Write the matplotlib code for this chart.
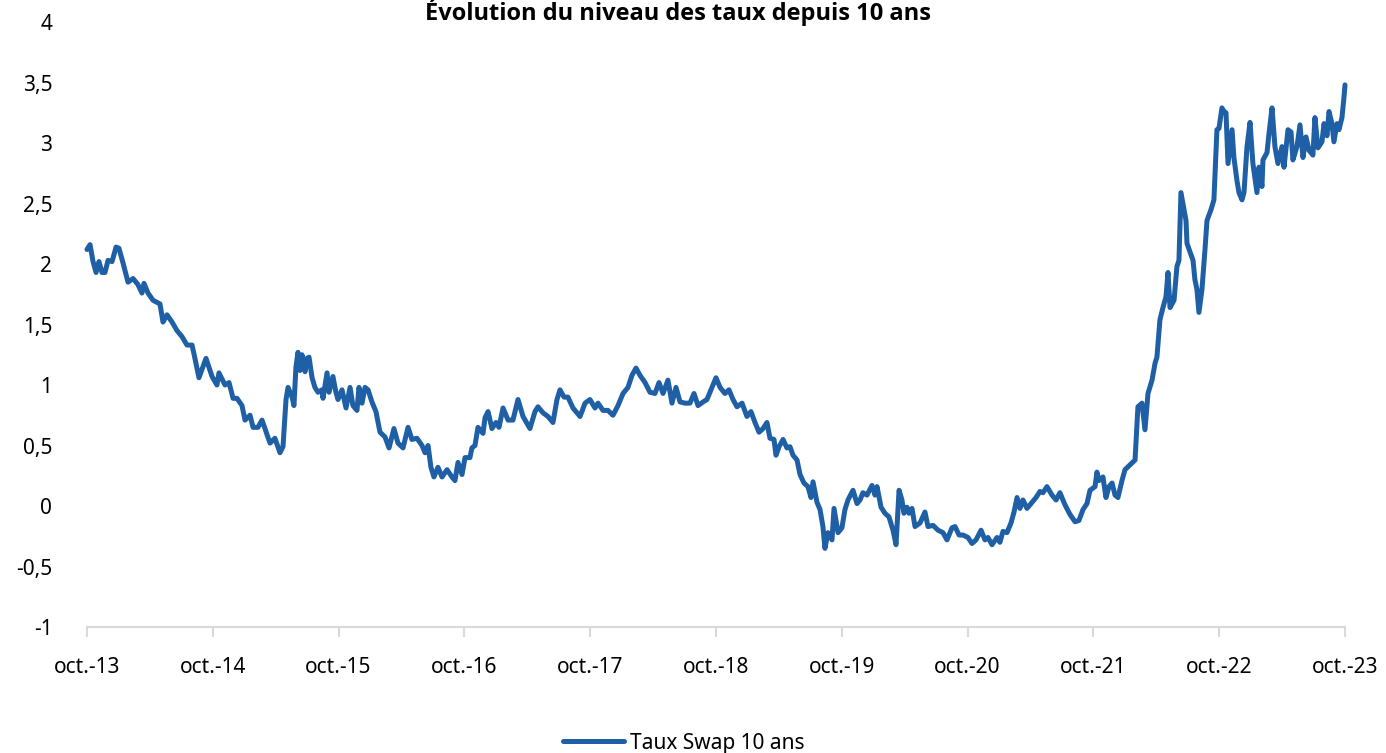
import matplotlib
matplotlib.use("Agg")
import matplotlib.pyplot as plt

plt.rcParams['font.family'] = ['Noto Sans', 'DejaVu Sans']

title = "Évolution du niveau des taux depuis 10 ans"
series_name = "Taux Swap 10 ans"

# decimal years (oct.-13 = 2013.75)
dates = [
    2013.750, 2013.774, 2013.798, 2013.822, 2013.845, 2013.869, 2013.893, 2013.917, 2013.949, 2013.981,
    2014.004, 2014.036, 2014.076, 2014.116, 2014.155, 2014.187, 2014.203, 2014.235, 2014.275, 2014.330,
    2014.354, 2014.386, 2014.426, 2014.465, 2014.505, 2014.545, 2014.585, 2014.608, 2014.640, 2014.696,
    2014.744, 2014.783, 2014.799, 2014.847, 2014.879, 2014.911, 2014.942, 2014.982, 2015.006, 2015.046,
    2015.070, 2015.109, 2015.141, 2015.165, 2015.181, 2015.205, 2015.244, 2015.284, 2015.308, 2015.332,
    2015.348, 2015.380, 2015.395, 2015.411, 2015.427, 2015.443, 2015.459, 2015.483, 2015.499, 2015.515,
    2015.539, 2015.562, 2015.586, 2015.618, 2015.626, 2015.658, 2015.674, 2015.705, 2015.729, 2015.745,
    2015.777, 2015.809, 2015.841, 2015.864, 2015.896, 2015.912, 2015.936, 2015.960, 2015.984, 2016.015,
    2016.047, 2016.079, 2016.119, 2016.151, 2016.190, 2016.222, 2016.262, 2016.302, 2016.333, 2016.373,
    2016.413, 2016.437, 2016.461, 2016.484, 2016.508, 2016.540, 2016.572, 2016.612, 2016.651, 2016.675,
    2016.699, 2016.731, 2016.755, 2016.794, 2016.810, 2016.834, 2016.858, 2016.898, 2016.914, 2016.938,
    2016.969, 2017.001, 2017.025, 2017.057, 2017.097, 2017.136, 2017.176, 2017.216, 2017.271, 2017.311,
    2017.335, 2017.375, 2017.414, 2017.454, 2017.486, 2017.510, 2017.542, 2017.573, 2017.613, 2017.669,
    2017.709, 2017.748, 2017.788, 2017.812, 2017.852, 2017.891, 2017.931, 2017.971, 2018.011, 2018.050,
    2018.082, 2018.114, 2018.146, 2018.186, 2018.225, 2018.265, 2018.297, 2018.329, 2018.368, 2018.400,
    2018.432, 2018.464, 2018.504, 2018.543, 2018.575, 2018.607, 2018.647, 2018.678, 2018.718, 2018.750,
    2018.782, 2018.821, 2018.853, 2018.885, 2018.917, 2018.957, 2018.996, 2019.028, 2019.060, 2019.092,
    2019.124, 2019.155, 2019.179, 2019.211, 2019.227, 2019.251, 2019.283, 2019.314, 2019.338, 2019.362,
    2019.394, 2019.418, 2019.449, 2019.481, 2019.505, 2019.521, 2019.553, 2019.577, 2019.600, 2019.616,
    2019.640, 2019.672, 2019.688, 2019.720, 2019.751, 2019.775, 2019.799, 2019.839, 2019.871, 2019.895,
    2019.918, 2019.950, 2019.990, 2020.014, 2020.030, 2020.062, 2020.093, 2020.125, 2020.157, 2020.181,
    2020.205, 2020.228, 2020.244, 2020.268, 2020.284, 2020.308, 2020.332, 2020.372, 2020.411, 2020.435,
    2020.475, 2020.515, 2020.554, 2020.586, 2020.626, 2020.650, 2020.682, 2020.713, 2020.753, 2020.785,
    2020.817, 2020.857, 2020.888, 2020.912, 2020.944, 2020.984, 2021.007, 2021.031, 2021.063, 2021.095,
    2021.119, 2021.143, 2021.166, 2021.190, 2021.222, 2021.262, 2021.294, 2021.325, 2021.349, 2021.381,
    2021.421, 2021.453, 2021.484, 2021.524, 2021.564, 2021.604, 2021.635, 2021.667, 2021.699, 2021.723,
    2021.763, 2021.778, 2021.794, 2021.826, 2021.850, 2021.874, 2021.898, 2021.922, 2021.945, 2021.977,
    2022.001, 2022.041, 2022.081, 2022.104, 2022.136, 2022.160, 2022.184, 2022.216, 2022.240, 2022.255,
    2022.279, 2022.303, 2022.327, 2022.343, 2022.359, 2022.391, 2022.414, 2022.430, 2022.446, 2022.470,
    2022.486, 2022.494, 2022.518, 2022.542, 2022.557, 2022.573, 2022.589, 2022.613, 2022.637, 2022.653,
    2022.685, 2022.708, 2022.732, 2022.748, 2022.772, 2022.788, 2022.804, 2022.820, 2022.852, 2022.867,
    2022.891, 2022.907, 2022.931, 2022.947, 2022.971, 2022.995, 2023.018, 2023.050, 2023.066, 2023.090,
    2023.098, 2023.130, 2023.146, 2023.170, 2023.193, 2023.217, 2023.249, 2023.265, 2023.297, 2023.321,
    2023.336, 2023.368, 2023.392, 2023.416, 2023.440, 2023.464, 2023.495, 2023.511, 2023.535, 2023.567,
    2023.583, 2023.607, 2023.623, 2023.646, 2023.662, 2023.686, 2023.702, 2023.726, 2023.742, 2023.750,
]

rates = [
    2.12, 2.16, 2.02, 1.93, 2.02, 1.93, 1.93, 2.03, 2.02, 2.14,
    2.13, 2.01, 1.85, 1.88, 1.83, 1.76, 1.84, 1.76, 1.70, 1.67,
    1.52, 1.58, 1.52, 1.45, 1.40, 1.33, 1.33, 1.22, 1.06, 1.22,
    1.07, 1.00, 1.10, 1.00, 1.02, 0.89, 0.89, 0.83, 0.71, 0.75,
    0.65, 0.65, 0.71, 0.64, 0.59, 0.52, 0.56, 0.44, 0.49, 0.88,
    0.98, 0.90, 0.83, 1.15, 1.27, 1.12, 1.25, 1.11, 1.22, 1.23,
    1.06, 0.98, 0.94, 0.96, 0.89, 1.10, 0.94, 1.07, 0.94, 0.88,
    0.96, 0.81, 0.98, 0.83, 0.79, 0.98, 0.85, 0.98, 0.96, 0.86,
    0.78, 0.61, 0.57, 0.48, 0.64, 0.52, 0.48, 0.65, 0.55, 0.56,
    0.50, 0.44, 0.50, 0.32, 0.24, 0.32, 0.24, 0.30, 0.24, 0.21,
    0.36, 0.26, 0.40, 0.40, 0.48, 0.50, 0.65, 0.60, 0.73, 0.78,
    0.64, 0.69, 0.65, 0.81, 0.71, 0.71, 0.88, 0.74, 0.64, 0.78,
    0.82, 0.77, 0.74, 0.69, 0.88, 0.96, 0.90, 0.90, 0.81, 0.74,
    0.85, 0.88, 0.81, 0.85, 0.79, 0.79, 0.75, 0.83, 0.93, 0.98,
    1.08, 1.14, 1.08, 1.02, 0.94, 0.93, 1.02, 0.93, 1.04, 0.85,
    0.98, 0.86, 0.85, 0.85, 0.93, 0.83, 0.86, 0.88, 0.98, 1.06,
    0.98, 0.93, 0.96, 0.88, 0.82, 0.85, 0.74, 0.78, 0.69, 0.61,
    0.64, 0.69, 0.56, 0.55, 0.42, 0.49, 0.55, 0.48, 0.49, 0.42,
    0.38, 0.26, 0.19, 0.16, 0.07, 0.20, 0.03, -0.03, -0.17, -0.35,
    -0.22, -0.28, -0.02, -0.22, -0.18, -0.03, 0.05, 0.13, 0.02, 0.05,
    0.11, 0.09, 0.17, 0.09, 0.16, -0.01, -0.06, -0.09, -0.20, -0.32,
    0.13, 0.05, -0.06, -0.01, -0.06, -0.02, -0.17, -0.14, -0.05, -0.17,
    -0.16, -0.20, -0.22, -0.28, -0.18, -0.17, -0.24, -0.24, -0.26, -0.31,
    -0.28, -0.20, -0.28, -0.26, -0.32, -0.26, -0.30, -0.21, -0.22, -0.14,
    -0.05, 0.07, -0.02, 0.05, -0.02, 0.03, 0.07, 0.12, 0.11, 0.16,
    0.09, 0.05, 0.11, 0.01, -0.07, -0.13, -0.12, -0.03, 0.02, 0.13,
    0.16, 0.28, 0.21, 0.24, 0.07, 0.16, 0.19, 0.09, 0.07, 0.21,
    0.30, 0.34, 0.38, 0.82, 0.85, 0.63, 0.93, 1.04, 1.18, 1.23,
    1.54, 1.64, 1.73, 1.93, 1.64, 1.70, 1.98, 2.03, 2.59, 2.45,
    2.36, 2.17, 2.10, 2.03, 1.87, 1.79, 1.60, 1.79, 2.12, 2.36,
    2.45, 2.53, 3.11, 3.12, 3.29, 3.26, 3.25, 2.83, 3.11, 2.88,
    2.69, 2.59, 2.53, 2.59, 2.97, 3.17, 2.83, 2.59, 2.80, 2.64,
    2.86, 2.92, 3.08, 3.29, 2.97, 2.83, 2.97, 2.80, 3.11, 3.09,
    2.86, 2.97, 3.15, 2.88, 3.05, 2.94, 2.90, 3.21, 2.96, 3.01,
    3.16, 3.06, 3.26, 3.16, 3.01, 3.16, 3.11, 3.21, 3.38, 3.48,
]

x_tick_pos = [2013.75 + k for k in range(11)]
x_tick_labels = ["oct.-13", "oct.-14", "oct.-15", "oct.-16", "oct.-17", "oct.-18",
                 "oct.-19", "oct.-20", "oct.-21", "oct.-22", "oct.-23"]
y_ticks = [-1, -0.5, 0, 0.5, 1, 1.5, 2, 2.5, 3, 3.5, 4]
y_tick_labels = ["-1", "-0,5", "0", "0,5", "1", "1,5", "2", "2,5", "3", "3,5", "4"]

fig = plt.figure(figsize=(13.86, 7.53), dpi=100)
ax = fig.add_axes([87/1386, 1 - 627/753, (1345 - 87)/1386, (627 - 22)/753])

ax.plot(dates, rates, color='#1F5FA5', lw=3.6, solid_joinstyle='round',
        solid_capstyle='round', label=series_name, clip_on=False)

ax.set_xlim(x_tick_pos[0], x_tick_pos[-1])
ax.set_ylim(-1, 4)
ax.set_xticks(x_tick_pos)
ax.set_xticklabels(x_tick_labels)
ax.set_yticks(y_ticks)
ax.set_yticklabels(y_tick_labels)

for s in ['top', 'right', 'left']:
    ax.spines[s].set_visible(False)
ax.spines['bottom'].set_color('#d9d9d9')
ax.spines['bottom'].set_linewidth(1.5)

ax.tick_params(axis='x', length=7.5, width=1.5, color='#d9d9d9', pad=14,
               labelsize=15, labelcolor='#000000')
ax.tick_params(axis='y', length=0, pad=25, labelsize=15, labelcolor='#000000')

fig.text(678/1386, 1 - 12/753, title, ha='center', va='center',
         fontsize=17, fontweight='bold', color='#000000',
         family=['Open Sans', 'DejaVu Sans'])

fig.legend(loc='center', bbox_to_anchor=(684/1386, 1 - 743/753), frameon=False,
           fontsize=15, handlelength=2.9, handletextpad=0.3)

fig.savefig('out.png', dpi=100)
